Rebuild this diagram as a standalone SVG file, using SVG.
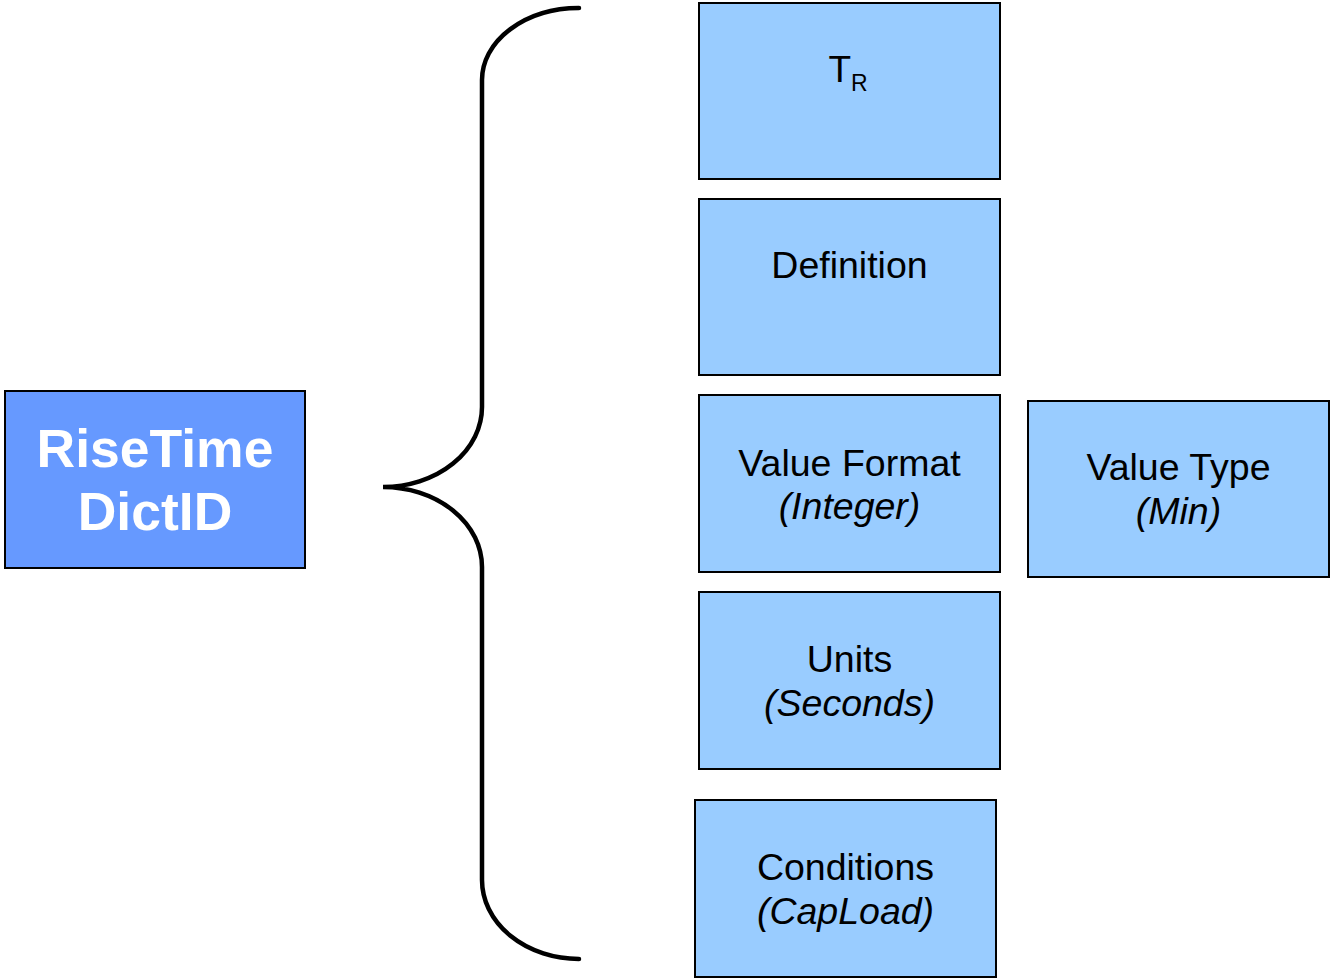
<svg xmlns="http://www.w3.org/2000/svg" width="1330" height="980" viewBox="0 0 1330 980">
<style>
.box{fill:#99CCFF;stroke:#000;stroke-width:2}
.main{fill:#6699FF;stroke:#000;stroke-width:2}
.t{font-family:"Liberation Sans",Arial,sans-serif;font-size:37.5px;fill:#000;text-anchor:middle}
.i{font-style:italic}
.w{font-family:"Liberation Sans",Arial,sans-serif;font-size:53.5px;font-weight:bold;fill:#fff;text-anchor:middle}
.brace{fill:none;stroke:#000;stroke-width:4.5;stroke-linecap:round}
</style>
<rect width="1330" height="980" fill="#fff"/>
<g id="risetime">
<rect class="main" x="5" y="391" width="300" height="177"/>
<text class="w" x="155" y="467">RiseTime</text>
<text class="w" x="155" y="530">DictID</text>
</g>
<g id="connectors">
<path class="brace" d="M579,8 A97 72 0 0 0 482,80 L482,407 A99 80 0 0 1 383,487 A99 80 0 0 1 482,567 L482,880 A97 79 0 0 0 579,959"/>
</g>
<g id="tr">
<rect class="box" x="699" y="3" width="301" height="176"/>
<text class="t" x="848" y="82" style="font-size:37px"><tspan>T</tspan><tspan dy="9" style="font-size:23px">R</tspan></text>
</g>
<g id="definition">
<rect class="box" x="699" y="199" width="301" height="176"/>
<text class="t" x="849.5" y="278">Definition</text>
</g>
<g id="valueformat">
<rect class="box" x="699" y="395" width="301" height="177"/>
<text class="t" x="849.5" y="476">Value Format</text>
<text class="t i" x="849.5" y="519">(Integer)</text>
</g>
<g id="valuetype">
<rect class="box" x="1028" y="401" width="301" height="176"/>
<text class="t" x="1178.5" y="480">Value Type</text>
<text class="t i" x="1178.5" y="524">(Min)</text>
</g>
<g id="units">
<rect class="box" x="699" y="592" width="301" height="177"/>
<text class="t" x="849.5" y="672">Units</text>
<text class="t i" x="849.5" y="716">(Seconds)</text>
</g>
<g id="conditions">
<rect class="box" x="695" y="800" width="301" height="177"/>
<text class="t" x="845.5" y="880">Conditions</text>
<text class="t i" x="845.5" y="924">(CapLoad)</text>
</g>
</svg>
